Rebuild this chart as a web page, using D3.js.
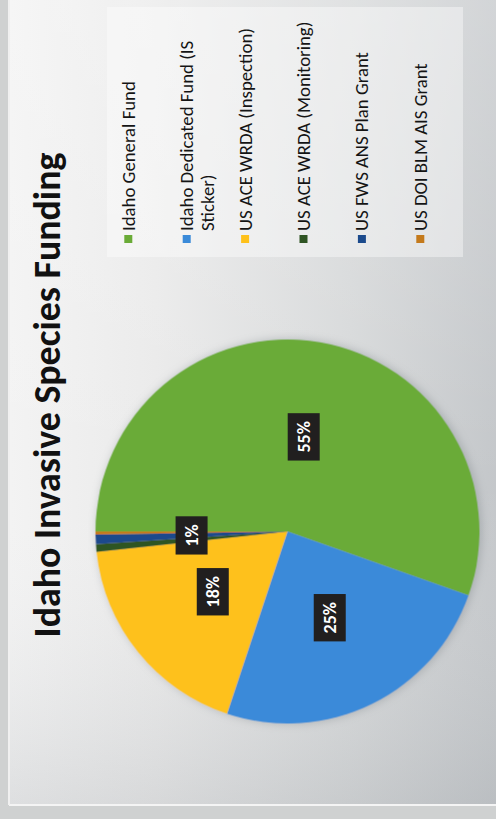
<!DOCTYPE html>
<html>
<head>
<meta charset="utf-8">
<script src="https://cdn.jsdelivr.net/npm/d3@7"></script>
<style>
  html, body { margin: 0; padding: 0; background: #d2d3d3; }
  svg { display: block; }
</style>
</head>
<body>
<svg id="chart" width="496" height="819"></svg>
<script>
// ---------- data ----------
const title = "Idaho Invasive Species Funding";
const categories = [
  "Idaho General Fund",
  "Idaho Dedicated Fund (IS Sticker)",
  "US ACE WRDA (Inspection)",
  "US ACE WRDA (Monitoring)",
  "US FWS ANS Plan Grant",
  "US DOI BLM AIS Grant"
];
const values = [55.4, 24.7, 18.2, 0.65, 0.8, 0.25];
const shownLabels = [0, 1, 2, 4];   // slices whose % label is visible
const palette = ["#6aab37", "#3a8ad9", "#fec11a", "#2f5423", "#1b4a8c", "#c47a1c"];

// ---------- layout (the slide is photographed rotated 90° CCW) ----------
const W = 496, H = 819;           // screen
const svg = d3.select("#chart");
const defs = svg.append("defs");

// background photo of slide
const bg = defs.append("linearGradient").attr("id", "bgH").attr("x1", 0).attr("x2", 1).attr("y1", 0).attr("y2", 0);
bg.append("stop").attr("offset", 0).attr("stop-color", "#f3f3f3");
bg.append("stop").attr("offset", 0.3).attr("stop-color", "#eaeaea");
bg.append("stop").attr("offset", 0.7).attr("stop-color", "#d6d8d9");
bg.append("stop").attr("offset", 1).attr("stop-color", "#c4c7ca");
const bgV = defs.append("linearGradient").attr("id", "bgV").attr("x1", 0).attr("x2", 0).attr("y1", 0).attr("y2", 1);
bgV.append("stop").attr("offset", 0).attr("stop-color", "#ffffff").attr("stop-opacity", 0.25);
bgV.append("stop").attr("offset", 0.6).attr("stop-color", "#ffffff").attr("stop-opacity", 0);
bgV.append("stop").attr("offset", 1).attr("stop-color", "#9ea3a8").attr("stop-opacity", 0.25);

const shadow = defs.append("filter").attr("id", "shadow").attr("x", "-20%").attr("y", "-20%").attr("width", "140%").attr("height", "140%");
shadow.append("feDropShadow").attr("dx", 0).attr("dy", 2).attr("stdDeviation", 5)
  .attr("flood-color", "#7d8388").attr("flood-opacity", 0.45);

svg.append("rect").attr("width", W).attr("height", H).attr("fill", "#cfd1d1");
svg.append("rect").attr("x", 10).attr("y", 0).attr("width", W - 10).attr("height", 804).attr("fill", "url(#bgH)");
svg.append("rect").attr("x", 10).attr("y", 0).attr("width", W - 10).attr("height", 804).attr("fill", "url(#bgV)");
svg.append("line").attr("x1", 9).attr("x2", W).attr("y1", 805).attr("y2", 805).attr("stroke", "#f4f4f4").attr("stroke-width", 2);
svg.append("line").attr("x1", 9).attr("x2", 9).attr("y1", 0).attr("y2", 805).attr("stroke", "#f0f0f0").attr("stroke-width", 2);

// rotated slide frame: (u, v) -> screen (v, 819 - u)
const g = svg.append("g").attr("transform", `translate(0,${H}) rotate(-90)`);

// ---------- title ----------
const titleText = g.append("text")
  .attr("x", 424).attr("y", 60)
  .attr("text-anchor", "middle")
  .attr("font-family", "Carlito, Lato, 'Open Sans', sans-serif")
  .attr("font-weight", "bold")
  .attr("fill", "#111")
  .attr("font-size", 36)
  .text(title);
{
  const w = titleText.node().getComputedTextLength();
  titleText.attr("font-size", 36 * 485 / w);
}

// ---------- pie ----------
const cx = 287.5, cy = 287.5, R = 192;
const pie = d3.pie().sort(null).value(d => d).startAngle(0).endAngle(2 * Math.PI);
const arcs = pie(values);
const arc = d3.arc().innerRadius(0).outerRadius(R);
const total = d3.sum(values);
const color = d3.scaleOrdinal().domain(d3.range(categories.length)).range(palette);
const pct = d3.format(".0%");

const pg = g.append("g").attr("transform", `translate(${cx},${cy})`);
pg.append("g").attr("filter", "url(#shadow)")
  .selectAll("path").data(arcs).join("path")
  .attr("d", arc)
  .attr("fill", (d, i) => color(i));

// data labels
const lg = pg.append("g");
const labelSize = 18;
arcs.forEach((d, i) => {
  if (!shownLabels.includes(i)) return;
  const [lx, ly] = arc.centroid(d);
  const grp = lg.append("g").attr("transform", `translate(${lx},${ly})`);
  const rect = grp.append("rect").attr("fill", "#211f1f");
  const t = grp.append("text")
    .attr("text-anchor", "middle")
    .attr("dy", "0.36em")
    .attr("font-family", "Carlito, Lato, sans-serif")
    .attr("font-weight", "bold")
    .attr("font-size", labelSize)
    .attr("fill", "#ffffff")
    .text(pct(d.value / total));
  const tw = t.node().getComputedTextLength();
  rect.attr("x", -tw / 2 - 8).attr("y", -16).attr("width", tw + 16).attr("height", 32);
});

// ---------- legend ----------
const legX = 562, legY = 107, legW = 250, legH = 356;
g.append("rect").attr("x", legX).attr("y", legY).attr("width", legW).attr("height", legH)
  .attr("fill", "#ffffff").attr("fill-opacity", 0.4);

const legFont = "Carlito, Lato, 'Open Sans', sans-serif";
const legend = g.append("g");
// font size fitted so that the first entry spans the same length as in the slide
const probe = legend.append("text").attr("font-family", legFont).attr("font-size", 16).text(categories[0]);
const legSize = 16 * 150 / probe.node().getComputedTextLength();
probe.remove();

const rowStep = 58.4, firstRow = 128.3, lineH = 21, maxTextW = 235;
categories.forEach((name, i) => {
  const yy = firstRow + i * rowStep;
  legend.append("rect")
    .attr("x", 576).attr("y", yy - 4).attr("width", 8).attr("height", 8)
    .attr("fill", color(i));
  const t = legend.append("text")
    .attr("x", 588).attr("y", yy)
    .attr("dy", "0.35em")
    .attr("font-family", legFont)
    .attr("font-size", legSize)
    .attr("fill", "#141414");
  // simple word wrap
  const words = name.split(" ");
  let line = [];
  let tspan = t.append("tspan").attr("x", 588);
  words.forEach(w => {
    line.push(w);
    tspan.text(line.join(" "));
    if (tspan.node().getComputedTextLength() > maxTextW && line.length > 1) {
      line.pop();
      tspan.text(line.join(" "));
      line = [w];
      tspan = t.append("tspan").attr("x", 588).attr("dy", lineH).text(w);
    }
  });
});
</script>
</body>
</html>
